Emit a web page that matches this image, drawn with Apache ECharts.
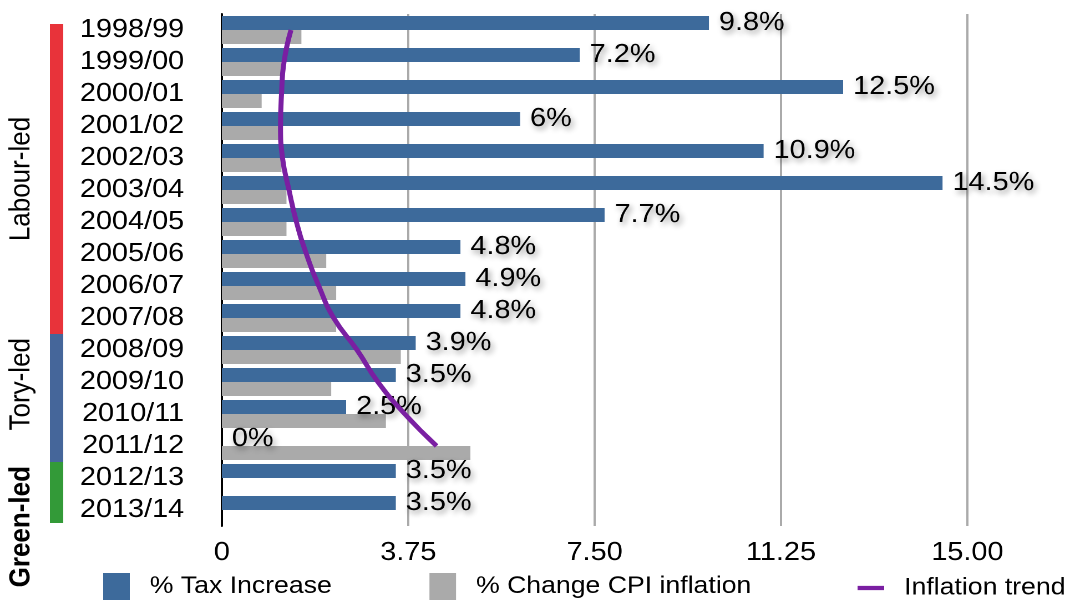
<!DOCTYPE html>
<html>
<head>
<meta charset="utf-8">
<title>Tax increase vs inflation</title>
<script src="https://cdn.jsdelivr.net/npm/echarts@6/dist/echarts.min.js"></script>
<style>
    html, body { margin: 0; padding: 0; overflow: hidden; background: #fff; }
    /* the original picture is stretched sideways (960 -> 1065) */
    #main { width: 960px; height: 600px; transform: scaleX(1.109375); transform-origin: 0 0; }
</style>
</head>
<body>
<div id="main"></div>
<script>
var categories = ['1998/99', '1999/00', '2000/01', '2001/02', '2002/03', '2003/04', '2004/05', '2005/06',
    '2006/07', '2007/08', '2008/09', '2009/10', '2010/11', '2011/12', '2012/13', '2013/14'];
var taxIncrease = [9.8, 7.2, 12.5, 6, 10.9, 14.5, 7.7, 4.8, 4.9, 4.8, 3.9, 3.5, 2.5, 0, 3.5, 3.5];
var cpiInflation = [1.6, 1.2, 0.8, 1.2, 1.2, 1.3, 1.3, 2.1, 2.3, 2.3, 3.6, 2.2, 3.3, 5.0, null, null];
var inflationTrend = [1.39, 1.25, 1.2, 1.18, 1.22, 1.35, 1.5, 1.7, 1.95, 2.25, 2.72, 3.14, 3.68, 4.32];
var xTickLabels = ['0', '3.75', '7.50', '11.25', '15.00'];

var govNames = ['Labour-led', 'Tory-led', 'Green-led'];
var govFrom = [0, 10, 14];
var govTo = [9, 13, 15];
var govColors = ['#e8333a', '#45669a', '#339a38'];

var font = "'Liberation Sans', Arial, Helvetica, sans-serif";

function start() {
    var chart = echarts.init(document.getElementById('main'), null, {renderer: 'canvas', devicePixelRatio: 2});
    var legendBase = {
        padding: 0,
        itemWidth: 24,
        itemHeight: 27,
        itemGap: 88,
        textStyle: {color: '#000', fontSize: 24, fontFamily: font, padding: [0, 0, 0, 13]}
    };
    var option = {
        animation: false,
        textStyle: {fontFamily: font},
        grid: {left: 200, right: 88, top: 14, bottom: 74},
        xAxis: {
            type: 'value',
            min: 0,
            max: 15,
            interval: 3.75,
            axisLine: {show: false},
            axisTick: {show: false},
            splitLine: {lineStyle: {color: '#aaaaaa', width: 2}},
            axisLabel: {
                color: '#000', fontSize: 26, margin: 14, fontFamily: font,
                formatter: function (v) { return xTickLabels[Math.round(v / 3.75)]; }
            }
        },
        yAxis: {
            type: 'category',
            inverse: true,
            data: categories,
            axisLine: {lineStyle: {color: '#000', width: 2}},
            axisTick: {show: false},
            axisLabel: {color: '#000', fontSize: 26, margin: 34, interval: 0, fontFamily: font}
        },
        legend: [
            echarts.util.extend({
                left: 93,
                top: 573,
                data: [
                    {name: '% Tax Increase', icon: 'rect'},
                    {name: '% Change CPI inflation', icon: 'rect'}
                ]
            }, legendBase),
            echarts.util.extend({
                left: 773,
                top: 576,
                data: [{name: 'Inflation trend', icon: 'path://M0,0H22V4H0Z'}]
            }, legendBase)
        ],
        series: [{
            name: '% Tax Increase',
            type: 'bar',
            data: taxIncrease,
            barGap: '0%',
            barCategoryGap: '12.5%',
            itemStyle: {color: '#3d6a9b'},
            label: {
                show: true,
                position: 'right',
                distance: 9,
                color: '#000',
                fontSize: 26,
                fontFamily: font,
                textShadowColor: 'rgba(0,0,0,0.45)',
                textShadowBlur: 6,
                textShadowOffsetX: 2,
                textShadowOffsetY: 3,
                formatter: function (p) { return p.value + '%'; }
            }
        }, {
            name: '% Change CPI inflation',
            type: 'bar',
            data: cpiInflation,
            itemStyle: {color: '#aaaaaa'}
        }, {
            name: 'Inflation trend',
            type: 'line',
            data: inflationTrend,
            smooth: true,
            symbol: 'none',
            z: 5,
            itemStyle: {color: '#7a1fa2'},
            lineStyle: {color: '#7a1fa2', width: 4.5}
        }]
    };
    chart.setOption(option);

    // side brackets for who was in charge, placed on the category axis
    var py = function (i) { return chart.convertToPixel({yAxisIndex: 0}, categories[i]); };
    var band = py(1) - py(0);
    var graphics = [];
    for (var g = 0; g < govNames.length; g++) {
        var y0 = py(govFrom[g]) - band / 2 + (g === 0 ? 10 : 0);
        var y1 = py(govTo[g]) + band / 2 - (g === govNames.length - 1 ? 3 : 0);
        graphics.push({
            type: 'rect',
            shape: {x: 45, y: y0, width: 12, height: y1 - y0},
            style: {fill: govColors[g]}
        });
        var centred = g === 0;
        graphics.push({
            type: 'text',
            x: 19.5,
            y: centred ? (y0 + y1) / 2 : y0 + 4,
            rotation: Math.PI / 2,
            style: {
                text: govNames[g],
                fill: '#000',
                font: (g === 2 ? 'bold ' : '') + '26px ' + font,
                align: centred ? 'center' : 'right',
                verticalAlign: 'middle'
            }
        });
    }
    chart.setOption({graphic: graphics});
}
start();
</script>
</body>
</html>
